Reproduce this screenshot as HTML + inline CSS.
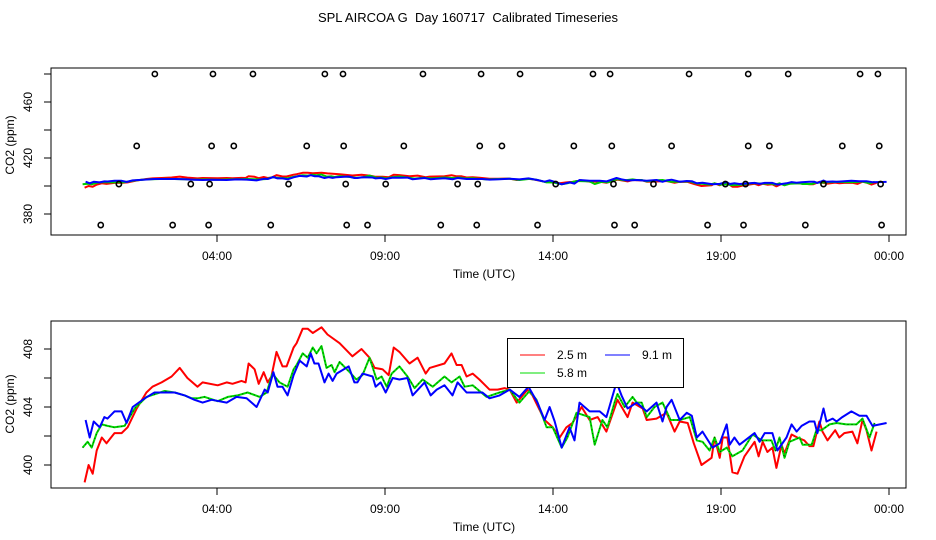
<!DOCTYPE html>
<html><head><meta charset="utf-8"><style>
body{margin:0;background:#fff}
svg{display:block;font-family:"Liberation Sans",sans-serif}
text{white-space:pre}
</style></head><body>
<svg id="c" width="936" height="540"></svg>
<script>
const ticksHours=[4,9,14,19,24];
const tickLabels=["04:00","09:00","14:00","19:00","00:00"];
const topTicks=[380,400,420,440,460,480];
const topTickLabels=["380","420","460"];
const botTicks=[400,402,404,406,408];
const botTickLabels=["400","404","408"];
const redT=[0.06,0.18,0.30,0.42,0.57,0.71,0.95,1.16,1.34,1.61,1.90,2.08,2.35,2.65,2.89,3.12,3.42,3.57,4.02,4.29,4.46,4.73,4.85,4.94,5.12,5.24,5.39,5.51,5.62,5.77,5.95,6.07,6.28,6.37,6.55,6.70,6.85,7.11,7.29,7.65,8.03,8.30,8.54,8.69,8.93,9.11,9.26,9.43,9.73,9.97,10.21,10.33,10.77,10.98,11.13,11.28,11.43,11.61,11.81,12.11,12.35,12.56,12.71,12.92,13.24,13.39,13.75,13.99,14.20,14.40,14.58,14.85,15.09,15.33,15.59,15.92,16.22,16.37,16.67,16.79,17.08,17.38,17.62,17.77,18.01,18.19,18.42,18.72,18.81,18.96,19.05,19.19,19.34,19.49,19.70,20.00,20.12,20.24,20.38,20.53,20.65,20.80,20.89,21.10,21.27,21.48,21.63,21.75,21.93,22.02,22.17,22.40,22.52,22.67,22.91,23.06,23.21,23.33,23.48,23.63];
const redV=[398.8,400.0,399.4,401.0,401.9,401.5,402.2,402.2,402.6,403.9,405.0,405.4,405.7,406.1,406.7,406.0,405.4,405.7,405.5,405.7,405.6,405.8,405.7,407.0,406.6,405.6,406.4,405.7,406.1,407.8,406.8,406.8,408.1,408.4,409.4,409.4,409.1,409.5,409.0,408.4,407.5,408.0,407.4,406.7,406.6,406.2,408.1,407.8,407.0,407.4,406.3,406.7,407.0,407.7,406.9,406.9,406.1,406.3,405.9,405.2,405.2,405.3,405.2,404.3,405.2,404.8,403.1,402.6,401.9,402.6,402.9,404.0,403.1,403.3,402.3,404.5,403.3,404.3,403.9,403.1,403.2,403.6,402.3,403.0,402.9,401.5,400.0,400.5,401.9,400.5,401.9,401.9,399.5,399.4,400.6,401.6,400.6,401.6,400.9,401.2,399.8,401.4,400.8,402.1,401.9,401.7,401.3,401.3,403.0,402.3,401.7,402.4,401.9,402.2,402.3,401.5,403.1,402.4,401.0,402.3];
const greenT=[0.00,0.15,0.27,0.42,0.57,0.74,0.95,1.25,1.55,1.90,2.44,2.74,3.04,3.24,3.42,3.63,4.02,4.32,4.61,4.91,5.27,5.48,5.65,5.86,6.10,6.28,6.37,6.55,6.70,6.85,6.96,7.11,7.26,7.41,7.50,7.65,7.95,8.15,8.33,8.54,8.75,8.90,9.05,9.20,9.43,9.67,9.88,10.12,10.42,10.77,10.98,11.22,11.37,11.61,12.02,12.41,12.71,13.00,13.30,13.51,13.81,13.99,14.26,14.43,14.70,15.09,15.24,15.47,15.62,15.83,15.92,16.13,16.37,16.49,16.64,16.79,17.02,17.26,17.50,17.77,18.07,18.28,18.45,18.66,18.81,18.96,19.17,19.34,19.64,19.94,20.21,20.50,20.62,20.74,20.89,21.04,21.34,21.43,21.70,21.84,21.99,22.23,22.44,22.73,23.03,23.21,23.42,23.57];
const greenV=[401.2,401.6,401.2,402.2,402.8,402.7,402.6,402.7,403.9,404.7,405.1,405.0,404.8,404.6,404.6,404.7,404.4,404.7,404.8,405.0,404.7,405.0,406.3,405.7,405.4,406.6,406.9,407.7,407.4,408.1,407.7,408.2,406.7,406.9,406.4,407.1,406.4,405.9,406.2,407.4,405.9,406.1,405.4,406.3,406.8,406.1,405.3,405.9,405.4,406.1,405.7,406.1,405.4,405.5,404.7,405.0,405.2,404.3,405.1,404.5,402.6,402.6,401.2,401.9,403.6,403.3,401.4,403.1,402.6,404.3,404.9,404.0,404.7,404.3,404.3,403.3,404.0,404.3,403.1,403.1,403.3,401.7,401.6,401.0,401.9,400.9,401.2,400.6,401.0,402.1,401.7,401.7,401.0,401.9,400.5,401.6,401.9,401.4,401.4,402.4,402.4,402.8,402.9,402.8,402.8,403.2,401.9,402.9];
const blueT=[0.09,0.21,0.33,0.51,0.65,0.74,0.95,1.16,1.31,1.49,1.85,2.14,2.74,3.04,3.33,3.57,3.84,4.29,4.58,4.88,5.18,5.42,5.51,5.68,5.80,5.95,6.10,6.28,6.46,6.67,6.79,6.90,7.02,7.20,7.32,7.44,7.56,7.92,8.09,8.18,8.33,8.63,8.72,8.87,9.02,9.23,9.43,9.67,9.82,10.18,10.36,10.54,10.77,11.01,11.16,11.43,11.90,12.11,12.41,12.71,13.00,13.27,13.54,13.75,13.90,14.05,14.26,14.49,14.64,14.79,15.09,15.39,15.59,15.89,16.04,16.22,16.49,16.79,17.08,17.26,17.38,17.53,17.77,17.98,18.13,18.28,18.45,18.75,18.96,19.17,19.26,19.40,19.55,20.00,20.15,20.30,20.53,20.68,20.95,21.10,21.25,21.40,21.63,21.78,21.87,22.05,22.14,22.32,22.44,22.61,22.88,23.12,23.33,23.51,23.93];
const blueV=[403.1,401.9,403.0,402.6,403.3,403.2,403.7,403.7,402.9,404.0,404.6,405.0,405.0,404.8,404.5,404.3,404.5,404.3,404.7,404.6,404.0,405.2,405.0,406.4,405.4,405.4,404.8,406.2,407.2,406.8,407.7,407.0,407.0,405.7,406.3,405.8,406.3,406.8,405.7,405.7,406.3,406.1,405.4,405.7,405.0,406.0,405.9,406.0,404.8,405.7,404.8,405.2,405.5,404.8,405.7,405.0,405.0,404.6,404.8,405.2,404.7,405.4,404.3,403.1,404.0,403.0,401.2,402.6,401.7,404.3,403.7,403.7,403.3,405.7,404.8,403.9,404.3,403.7,404.3,403.0,404.0,404.5,403.1,403.6,403.4,401.9,402.3,401.2,401.5,402.8,401.4,401.9,401.4,402.2,401.6,402.2,402.2,401.0,401.9,402.8,402.3,402.7,403.0,403.0,402.2,403.9,403.0,403.2,403.0,403.3,403.7,403.4,403.4,402.7,402.9];
const circT480=[2.15,3.88,5.07,7.21,7.75,10.13,11.86,13.02,15.19,15.70,18.05,19.81,21.00,23.14,23.67];
const circT428=[1.61,3.84,4.50,6.67,7.77,9.56,11.82,12.48,14.62,15.75,17.53,19.81,20.44,22.61,23.71];
const circT401=[1.08,3.22,3.78,6.13,7.83,9.02,11.16,11.76,14.08,15.80,16.99,19.13,19.73,22.05,23.75];
const circT372=[0.54,2.68,3.75,5.60,7.86,8.48,10.66,11.73,13.54,15.83,16.43,18.60,19.67,21.51,23.78];
const circLevels=[480,428.6,401.4,372.1];

const NS="http://www.w3.org/2000/svg";
const svg=document.getElementById('c');
function el(tag,attrs,parent){const e=document.createElementNS(NS,tag);for(const k in attrs)e.setAttribute(k,attrs[k]);(parent||svg).appendChild(e);return e;}
const X=h=>82.6+33.6*h;
const topY=v=>186-(v-400)*1.4;
const botY=v=>465-(v-400)*14.5;
const L=51,R=906;

let t=el('text',{x:468,y:22,'text-anchor':'middle','font-size':13});
t.textContent="SPL AIRCOA G  Day 160717  Calibrated Timeseries";



function panel(name,top,bot,Y,ticks,labels,labelVals,yTitleY){
  const g=el('g',{});
  
  
  const b=el('rect',{x:L,y:top,width:R-L,height:bot-top,fill:'none',stroke:'#000','stroke-width':1},g);
  
  
  ticks.forEach(v=>{const tk=el('line',{x1:L-7,x2:L,y1:Y(v),y2:Y(v),stroke:'#000'},g);
    
    });
  labels.forEach((s,i)=>{const yy=Y(labelVals[i]);
    const tx=el('text',{x:0,y:0,transform:`translate(32,${yy}) rotate(-90)`,'text-anchor':'middle','font-size':12},g);
    tx.textContent=s;
    
    });
  const yt=el('text',{x:0,y:0,transform:`translate(14,${yTitleY}) rotate(-90)`,'text-anchor':'middle','font-size':12},g);
  yt.textContent="CO2 (ppm)";
  
  
  ticksHours.forEach((h,i)=>{const tk=el('line',{x1:X(h),x2:X(h),y1:bot,y2:bot+7,stroke:'#000'},g);
    
    
    const tx=el('text',{x:X(h),y:bot+25,'text-anchor':'middle','font-size':12},g);
    tx.textContent=tickLabels[i];
    
    });
  const xt=el('text',{x:484,y:bot+43,'text-anchor':'middle','font-size':12},g);
  xt.textContent="Time (UTC)";
  
  
  return g;
}
function series(g,T,V,Y,color,name,dash){
  const d=T.map((h,i)=>(i?'L':'M')+X(h).toFixed(1)+','+Y(V[i]).toFixed(1)).join('');
  const p=el('path',{d:d,fill:'none',stroke:color,'stroke-width':2,'stroke-linejoin':'round'},g);
  
  
  if(dash){const p2=el('path',{d:d,fill:'none',stroke:'#000','stroke-width':0.7,'stroke-dasharray':'1,3'},g);
    
    }
}
const gt=panel('top-panel',68,235,topY,topTicks,topTickLabels,[380,420,460],145);
series(gt,redT,redV,topY,'#ff0000','top-series-2-5m',false);
series(gt,greenT,greenV,topY,'#00cc00','top-series-5-8m',false);
series(gt,blueT,blueV,topY,'#0000ff','top-series-9-1m',false);
[circT480,circT428,circT401,circT372].forEach((arr,k)=>arr.forEach(h=>{
  const c=el('circle',{cx:X(h),cy:topY(circLevels[k]),r:2.6,fill:'none',stroke:'#000','stroke-width':1.6},gt);
  
  }));

const gb=panel('bottom-panel',321,488,botY,botTicks,botTickLabels,[400,404,408],404);
series(gb,redT,redV,botY,'#ff0000','series-2-5m',false);
series(gb,greenT,greenV,botY,'#00dd00','series-5-8m',true);
series(gb,blueT,blueV,botY,'#0000ff','series-9-1m',false);

const lg=el('g',{});


el('rect',{x:507.5,y:338.5,width:176,height:49,fill:'#fff',stroke:'#000'},lg);
[[520,355,'#ff0000','2.5 m'],[605,355,'#0000ff','9.1 m'],[520,373,'#00dd00','5.8 m']].forEach(([x,y,c,s])=>{
  const ln=el('line',{x1:x,x2:x+25,y1:y,y2:y,stroke:c,'stroke-width':1},lg);
  
  
  const tx=el('text',{x:x+37,y:y+4,'font-size':12},lg);
  tx.textContent=s;
  
  });
</script>
</body></html>
